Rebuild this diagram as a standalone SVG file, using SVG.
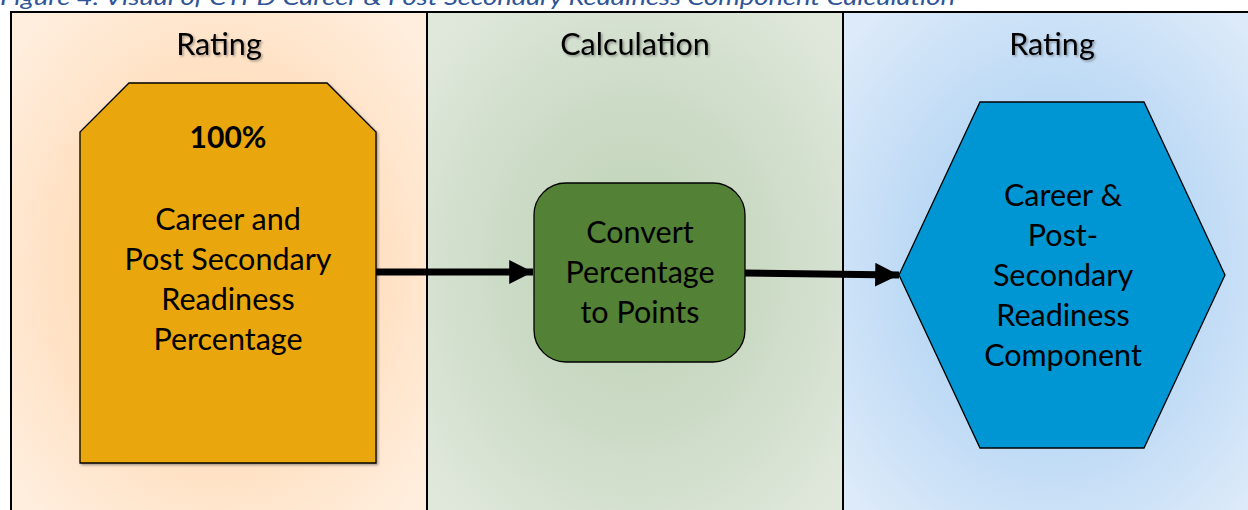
<svg xmlns="http://www.w3.org/2000/svg" width="1248" height="510" viewBox="0 0 1248 510">
<defs>
<style>
.hdr{font-family:Lato,"Liberation Sans",sans-serif;font-size:30.5px;fill:#000;text-anchor:middle;filter:url(#ts);}
.body{font-family:Lato,"Liberation Sans",sans-serif;font-size:30.5px;fill:#000;text-anchor:middle;}
.cap{font-family:Lato,"Liberation Sans",sans-serif;font-style:italic;font-size:21px;fill:#2F5597;}
.panel{stroke:#000;stroke-width:2;}
.shape{stroke:#000;stroke-width:1.3;}
.conn{stroke:#000;stroke-width:7;fill:none;}
</style>
<radialGradient id="gL" cx="50%" cy="50%" r="65%">
<stop offset="0" stop-color="#FFD8B0"/>
<stop offset="0.55" stop-color="#FFE0C1"/>
<stop offset="1" stop-color="#FFEEDE"/>
</radialGradient>
<radialGradient id="gM" cx="50%" cy="50%" r="65%">
<stop offset="0" stop-color="#BFD2B6"/>
<stop offset="0.5" stop-color="#CCDBC6"/>
<stop offset="1" stop-color="#E0E8DC"/>
</radialGradient>
<radialGradient id="gR" cx="50%" cy="50%" r="65%">
<stop offset="0" stop-color="#ABCFF4"/>
<stop offset="0.5" stop-color="#BCD9F5"/>
<stop offset="1" stop-color="#DCEAF9"/>
</radialGradient>
<filter id="ts" x="-10%" y="-20%" width="130%" height="150%">
<feDropShadow dx="1.5" dy="1.5" stdDeviation="1" flood-color="#000" flood-opacity="0.35"/>
</filter>
<filter id="ss" x="-5%" y="-5%" width="112%" height="112%">
<feDropShadow dx="1.5" dy="1.5" stdDeviation="1" flood-color="#000" flood-opacity="0.35"/>
</filter>
<marker id="ah" viewBox="0 0 10 10" refX="10" refY="5" markerWidth="3.4" markerHeight="3.4" markerUnits="strokeWidth" orient="auto">
<path d="M0,0 L10,5 L0,10 Z" fill="#000"/>
</marker>
</defs>
<rect width="1248" height="510" fill="#fff"/>
<text class="cap" x="0" y="5" textLength="955" lengthAdjust="spacingAndGlyphs">Figure 4: Visual of CTPD Career &amp; Post Secondary Readiness Component Calculation</text>

<g id="panel-rating-left">
<rect class="panel" x="11" y="12" width="416" height="510" fill="url(#gL)"/>
<text class="hdr" x="219" y="55">Rating</text>
</g>
<g id="panel-calculation">
<rect class="panel" x="427" y="12" width="416" height="510" fill="url(#gM)"/>
<text class="hdr" x="635" y="55">Calculation</text>
</g>
<g id="panel-rating-right">
<rect class="panel" x="843" y="12" width="420" height="510" fill="url(#gR)"/>
<text class="hdr" x="1052" y="55">Rating</text>
</g>

<g id="node-percentage">
<polygon class="shape" filter="url(#ss)" points="129,83 327,83 376,132 376,463 80,463 80,132" fill="#E9A70F"/>
<text class="body" x="228" y="148" style="font-weight:bold;font-size:30px">100%</text>
<text class="body" x="228" y="230">Career and</text>
<text class="body" x="228" y="270">Post Secondary</text>
<text class="body" x="228" y="310">Readiness</text>
<text class="body" x="228" y="350">Percentage</text>
</g>

<g id="node-convert">
<rect class="shape" x="534" y="183" width="211" height="179" rx="32" ry="32" fill="#538135"/>
<text class="body" x="640" y="243">Convert</text>
<text class="body" x="640" y="283">Percentage</text>
<text class="body" x="640" y="323">to Points</text>
</g>

<g id="node-component">
<polygon class="shape" points="980,102 1144,102 1225,275 1144,448 980,448 899,275" fill="#0096D4"/>
<text class="body" x="1063" y="206">Career &amp;</text>
<text class="body" x="1063" y="246">Post-</text>
<text class="body" x="1063" y="286">Secondary</text>
<text class="body" x="1063" y="326">Readiness</text>
<text class="body" x="1063" y="366">Component</text>
</g>

<g id="connectors">
<line class="conn" x1="376" y1="272" x2="533" y2="272" marker-end="url(#ah)"/>
<line class="conn" x1="745" y1="273" x2="899" y2="275" marker-end="url(#ah)"/>
</g>
</svg>
